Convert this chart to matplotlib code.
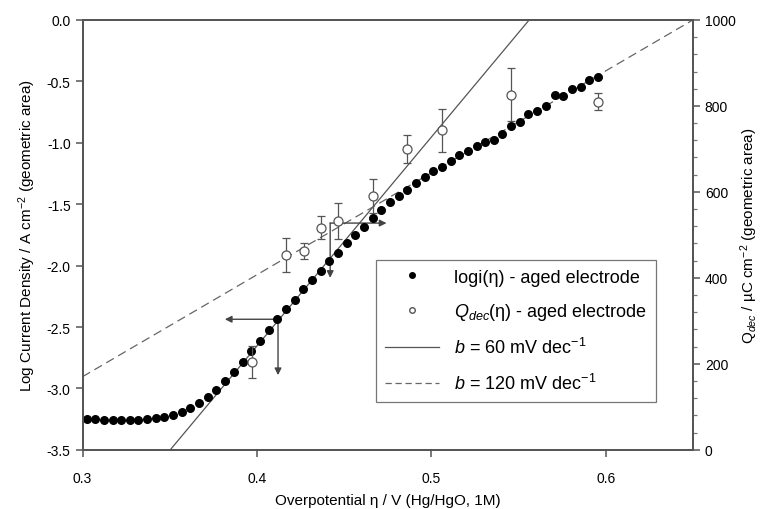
import matplotlib.pyplot as plt
import numpy as np
from matplotlib.lines import Line2D

plt.rcParams['font.family'] = ['Liberation Sans', 'DejaVu Sans']
plt.rcParams['mathtext.fontset'] = 'custom'
plt.rcParams['mathtext.rm'] = 'Liberation Sans'
plt.rcParams['mathtext.it'] = 'Liberation Sans:italic'

# log i (eta) - aged electrode, left axis
eta_i = [0.3023, 0.3073, 0.3122, 0.3172, 0.3222, 0.3271, 0.3321, 0.3371, 0.3421, 0.3470,
         0.3520, 0.3570, 0.3619, 0.3669, 0.3719, 0.3768, 0.3818, 0.3868, 0.3918, 0.3967,
         0.4017, 0.4067, 0.4116, 0.4166, 0.4216, 0.4265, 0.4315, 0.4365, 0.4414, 0.4464,
         0.4514, 0.4564, 0.4613, 0.4663, 0.4713, 0.4762, 0.4812, 0.4862, 0.4912, 0.4961,
         0.5011, 0.5061, 0.5110, 0.5160, 0.5210, 0.5259, 0.5309, 0.5359, 0.5408, 0.5458,
         0.5508, 0.5557, 0.5607, 0.5657, 0.5707, 0.5756, 0.5806, 0.5856, 0.5905, 0.5955]
log_i = [-3.246, -3.252, -3.254, -3.254, -3.254, -3.254, -3.254, -3.252, -3.244, -3.233,
         -3.217, -3.192, -3.160, -3.122, -3.073, -3.014, -2.941, -2.868, -2.784, -2.697,
         -2.610, -2.521, -2.437, -2.356, -2.277, -2.193, -2.115, -2.041, -1.963, -1.895,
         -1.814, -1.749, -1.682, -1.611, -1.549, -1.484, -1.435, -1.381, -1.324, -1.278,
         -1.229, -1.194, -1.148, -1.102, -1.067, -1.023, -0.991, -0.975, -0.926, -0.861,
         -0.831, -0.766, -0.744, -0.704, -0.609, -0.617, -0.563, -0.544, -0.490, -0.465]

# Q_dec (eta) - aged electrode, right axis
eta_q = [0.3970, 0.4164, 0.4268, 0.4369, 0.4464, 0.4663, 0.4861, 0.5061, 0.5459, 0.5955]
q_dec = [204, 453, 462, 517, 532, 590, 700, 743, 826, 810]
q_err = [37, 40, 18, 27, 41, 40, 32, 50, 62, 19]

# Tafel lines: eta where log i = 0, slope in V/dec
eta0_60, b_60 = 0.5561, 0.0588
eta0_120, b_120 = 0.650, 0.1205

fig, ax = plt.subplots(figsize=(7.64, 5.10), dpi=100)
fig.subplots_adjust(left=0.108, right=0.907, bottom=0.116, top=0.959)
ax2 = ax.twinx()

xl = np.array([0.3, 0.65])
ax.plot(xl, (xl - eta0_60) / b_60, color='#555555', lw=0.9, zorder=2)
ax.plot(xl, (xl - eta0_120) / b_120, color='#666666', lw=0.9, ls=(0, (7, 4)), zorder=2)
ax.scatter(eta_i, log_i, s=30, color='black', zorder=4)

ax2.errorbar(eta_q, q_dec, yerr=q_err, fmt='o', mfc='white', mec='#555555', mew=0.9,
             ms=6.5, ecolor='#555555', elinewidth=0.9, capsize=3, capthick=0.9, zorder=3)

# guide arrows
arr = dict(arrowstyle='-|>', color='#444444', lw=1.0, mutation_scale=10, shrinkA=0, shrinkB=0)
ax.annotate('', xy=(0.3816, -2.437), xytext=(0.4121, -2.437), arrowprops=arr)
ax.annotate('', xy=(0.4121, -2.892), xytext=(0.4121, -2.437), arrowprops=arr)
ax.annotate('', xy=(0.4743, -1.654), xytext=(0.4420, -1.654), arrowprops=arr)
ax.annotate('', xy=(0.4420, -2.100), xytext=(0.4420, -1.654), arrowprops=arr)

ax.set_xlim(0.3, 0.65)
ax.set_ylim(-3.5, 0.0)
ax2.set_ylim(0, 1000)
ax.set_xticks([0.3, 0.4, 0.5, 0.6])
ax.set_xticklabels(['0.3', '0.4', '0.5', '0.6'])
ax.set_yticks(np.arange(-3.5, 0.01, 0.5))
ax.set_yticklabels(['%.1f' % v for v in np.arange(-3.5, 0.01, 0.5)])
ax2.set_yticks(np.arange(0, 1001, 200))
ax2.set_yticks(np.arange(0, 1001, 40), minor=True)

for a in (ax, ax2):
    for s in a.spines.values():
        s.set_color('#555555')
        s.set_linewidth(1.3)
    a.tick_params(direction='out', length=5, width=1.1, color='#555555', labelsize=10)
ax.tick_params(axis='x', pad=10)
ax2.tick_params(which='minor', direction='out', length=3, width=0.9, color='#777777')

ax.set_xlabel('Overpotential η / V (Hg/HgO, 1M)', fontsize=11, labelpad=6)
ax.set_ylabel('Log Current Density / A cm$^{-2}$ (geometric area)', fontsize=11, labelpad=6)
ax2.set_ylabel('Q$_{dec}$ / µC cm$^{-2}$ (geometric area)', fontsize=11, labelpad=2, rotation=90)

# legend
handles = [
    Line2D([], [], ls='none', marker='o', color='black', ms=4),
    Line2D([], [], ls='none', marker='o', mfc='white', mec='#555555', ms=4),
    Line2D([], [], color='#555555', lw=0.9),
    Line2D([], [], color='#666666', lw=0.9, ls=(0, (5, 3))),
]
labels = ['logi(η) - aged electrode',
          '$Q_{dec}$(η) - aged electrode',
          '$b$ = 60 mV dec$^{-1}$',
          '$b$ = 120 mV dec$^{-1}$']
leg = ax.legend(handles, labels, loc='lower left', bbox_to_anchor=(0.481, 0.1115),
                borderaxespad=0, fontsize=13, frameon=True, fancybox=False,
                edgecolor='#555555', handlelength=3.0, labelspacing=0.85,
                borderpad=0.5, handletextpad=0.8)
leg.get_frame().set_linewidth(0.9)
leg.set_zorder(6)

fig.savefig('out.png', dpi=100)
